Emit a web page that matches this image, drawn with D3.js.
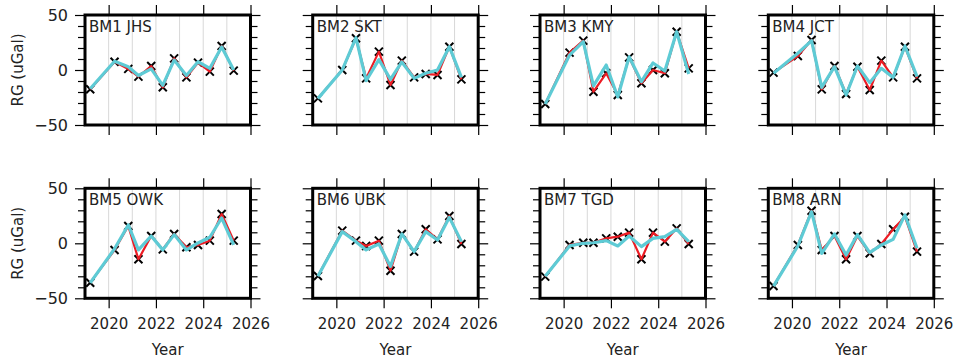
<!DOCTYPE html>
<html>
<head>
<meta charset="utf-8">
<script src="https://cdn.jsdelivr.net/npm/d3@7"></script>
<style>
  body { margin: 0; background: #fff; }
  svg { display: block; }
</style>
</head>
<body>
<svg id="chart" width="960" height="361"></svg>
<script>
// epochs of the campaigns (decimal year)
const epochs = [2019.22, 2020.25, 2020.83, 2021.26, 2021.8, 2022.29, 2022.77, 2023.29, 2023.78, 2024.28, 2024.78, 2025.29];

const stations = ["BM1 JHS", "BM2 SKT", "BM3 KMY", "BM4 JCT", "BM5 OWK", "BM6 UBK", "BM7 TGD", "BM8 ARN"];

// observed residual gravity (red line, X markers)
const obsBM1 = [-17.5, 7.5, 1, -6, 3.6, -15.7, 10.6, -6.7, 6.7, -1.5, 21.8, -0.6];
const obsBM2 = [-25.8, 0, 28.8, -7.6, 16.7, -13.6, 8.5, -6.7, -3.6, -4.5, 21.2, -8.5];
const obsBM3 = [-30.9, 15.8, 26.7, -19.7, -3, -22.7, 11.5, -12.1, 0, -3, 34.8, 1.5];
const obsBM4 = [-2.4, 12.7, 27.3, -17.6, 3.6, -21.8, 3, -18.2, 8.5, -6.7, 21.2, -7.6];
const obsBM5 = [-35.8, -6.1, 15.7, -14.5, 6.6, -5.5, 8.5, -3.6, -1.5, 2.4, 26.6, 2.4];
const obsBM6 = [-29.7, 11.5, 2.4, -2.4, 2.4, -24.9, 8.5, -7.6, 12.7, 3.6, 24.8, -0.6];
const obsBM7 = [-30.3, -1.5, 0.5, 0.5, 4.5, 6, 9.7, -14.5, 9.7, 1.5, 13.6, -0.6];
const obsBM8 = [-38.8, -1.5, 29.6, -6.1, 6.6, -14.5, 6.6, -9.1, -0.6, 12.7, 24.2, -7.6];

// second series (cyan line)
const modBM1 = [-17, 8, 3, -5, 1, -14, 9, -5, 7.5, 1.5, 21, 0];
const modBM2 = [-26, 0, 29.4, -9.7, 9.4, -8.5, 7.3, -7.6, -3, 0, 21.2, -6.7];
const modBM3 = [-31, 13.6, 25.8, -14.5, 4.5, -24.5, 12, -10.6, 6.4, -0.9, 34.8, -3.6];
const modBM4 = [-3, 15.2, 26.7, -15.8, 3, -22.7, 3.6, -11.5, 1.5, -6.7, 21.8, -6];
const modBM5 = [-36, -5, 16.7, -6, 6.6, -6, 7.9, -6, 0.3, 5.5, 23, -1.5];
const modBM6 = [-30, 10.6, 1.5, -6, -0.6, -21, 8.5, -7.6, 10.6, 3, 23.6, 1.5];
const modBM7 = [-30, -2.4, 0, 0.5, 2.4, -2.4, 6.7, -3, 4.5, 6, 12.7, 1.5];
const modBM8 = [-39, -2.4, 28.8, -9.1, 8.5, -10.6, 7.9, -8.5, -1.5, 3.6, 25.8, -4.5];

const obsAll = [obsBM1, obsBM2, obsBM3, obsBM4, obsBM5, obsBM6, obsBM7, obsBM8];
const modAll = [modBM1, modBM2, modBM3, modBM4, modBM5, modBM6, modBM7, modBM8];

const xTicks = [2020, 2022, 2024, 2026];
const gridYears = [2020, 2021, 2022, 2023, 2024, 2025];
const yTicks = [-50, 0, 50];
const yMinor = [-40, -30, -20, -10, 10, 20, 30, 40];
const xLabel = "Year";
const yLabel = "RG (uGal)";

const fontFamily = "'DejaVu Sans', sans-serif";
const fontSize = "15px";
const lefts = [85, 312.7, 540, 768.3];
const tops = [15, 188.3];
const pw = 165.5, ph = 110;

const svg = d3.select("#chart");

const xScale = d3.scaleLinear().domain([2019, 2026]).range([0, pw]);
const yScale = d3.scaleLinear().domain([-50, 50]).range([ph, 0]);

stations.forEach((name, i) => {
    const row = Math.floor(i / 4), col = i % 4;
    const g = svg.append("g")
        .attr("transform", "translate(" + lefts[col] + "," + tops[row] + ")");

    // year grid
    g.selectAll(".grid").data(gridYears).enter().append("line")
        .attr("x1", d => xScale(d)).attr("x2", d => xScale(d))
        .attr("y1", 0).attr("y2", ph)
        .style("stroke", "#d8d8d8").style("stroke-width", 1);

    // axes, ticks outward on every side
    const axes = [
        { ax: d3.axisLeft(yScale).tickValues(yTicks).tickSize(10).tickPadding(7), t: "translate(0,0)", lab: col == 0, fs: "16px" },
        { ax: d3.axisLeft(yScale).tickValues(yMinor).tickSize(7), t: "translate(0,0)", lab: false },
        { ax: d3.axisRight(yScale).tickValues(yTicks).tickSize(10), t: "translate(" + pw + ",0)", lab: false },
        { ax: d3.axisRight(yScale).tickValues(yMinor).tickSize(7), t: "translate(" + pw + ",0)", lab: false },
        { ax: d3.axisTop(xScale).tickValues(xTicks).tickSize(10), t: "translate(0,0)", lab: false },
        { ax: d3.axisBottom(xScale).tickValues(xTicks).tickSize(10).tickPadding(10).tickFormat(d3.format("d")), t: "translate(0," + ph + ")", lab: row == 1, fs: fontSize }
    ];
    axes.forEach(a => {
        const ag = g.append("g").attr("transform", a.t).call(a.ax);
        ag.select(".domain").remove();
        ag.selectAll(".tick line").style("stroke", "#000").style("stroke-width", 1.2);
        ag.selectAll("text")
            .style("font-family", fontFamily).style("font-size", a.fs || fontSize).style("fill", "#222")
            .style("display", a.lab ? null : "none");
    });

    const lineGen = d3.line().x((d, j) => xScale(epochs[j])).y(d => yScale(d));

    // X markers
    g.selectAll(".mk").data(obsAll[i]).enter().append("path")
        .attr("transform", (d, j) => "translate(" + xScale(epochs[j]) + "," + yScale(d) + ")")
        .attr("d", "M-4,-4L4,4M-4,4L4,-4")
        .style("stroke", "#000").style("stroke-width", 2).style("fill", "none");

    g.append("path").datum(obsAll[i])
        .attr("d", lineGen)
        .style("fill", "none").style("stroke", "#ec1c24").style("stroke-width", 2.2)
        .style("stroke-linejoin", "round");

    g.append("path").datum(modAll[i])
        .attr("d", lineGen)
        .style("fill", "none").style("stroke", "#5ecbd5").style("stroke-width", 3.2)
        .style("stroke-linejoin", "round");

    // frame
    g.append("rect").attr("width", pw).attr("height", ph)
        .style("fill", "none").style("stroke", "#000").style("stroke-width", 3);

    g.append("text")
        .attr("x", 4).attr("y", 17)
        .style("font-family", fontFamily).style("font-size", fontSize).style("fill", "#222")
        .text(name);

    if (row == 1) {
        g.append("text")
            .attr("x", pw / 2).attr("y", ph + 57)
            .attr("text-anchor", "middle")
            .style("font-family", fontFamily).style("font-size", fontSize).style("fill", "#222")
            .text(xLabel);
    }
    if (col == 0) {
        g.append("text")
            .attr("transform", "translate(" + (-62) + "," + (ph / 2) + ") rotate(-90)")
            .attr("text-anchor", "middle")
            .style("font-family", fontFamily).style("font-size", fontSize).style("fill", "#222")
            .text(yLabel);
    }
});
</script>
</body>
</html>
